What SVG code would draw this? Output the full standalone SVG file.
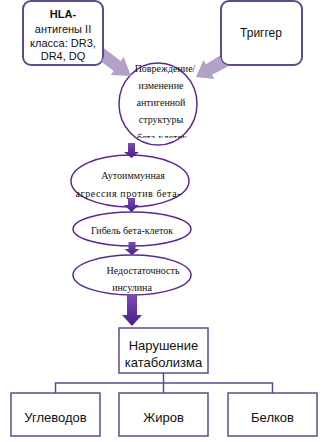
<svg xmlns="http://www.w3.org/2000/svg" width="332" height="442" viewBox="0 0 332 442">
<defs>
<linearGradient id="dg" x1="0" y1="0" x2="0" y2="1">
<stop offset="0" stop-color="#7a4bb5"/>
<stop offset="1" stop-color="#4a1c86"/>
</linearGradient>
<clipPath id="cc"><rect x="100" y="55" width="120" height="83"/></clipPath>
</defs>
<style>
.rb{fill:#fff;stroke:#5f4b8b;stroke-width:2}
.sb{fill:#fff;stroke:#5f4b8b;stroke-width:1.5}
.el{fill:#fff;stroke:#5a2a8e;stroke-width:1.5}
.sans{font-family:"Liberation Sans",Arial,sans-serif;font-size:12px;fill:#111;text-anchor:middle}
.sm{font-size:11px}
.big{font-size:13px}
.ser{font-family:"Liberation Serif","Times New Roman",serif;font-size:10px;fill:#111;text-anchor:middle}
.la{fill:#b3a2c7}
.da{fill:url(#dg)}
.ln{fill:none;stroke:#5f4b8b;stroke-width:1.5}
</style>
<rect width="332" height="442" fill="#fff"/>
<g id="hla">
<rect class="rb" x="23" y="1" width="80" height="64" rx="8"/>
<text class="sans sm" x="63" y="17.5" font-weight="bold">HLA-</text>
<text class="sans sm" x="63" y="33">антигены II</text>
<text class="sans sm" x="63" y="46.5">класса: DR3,</text>
<text class="sans sm" x="63" y="60">DR4, DQ</text>
</g>
<g id="trigger">
<rect class="rb" x="221" y="1" width="81" height="64" rx="8"/>
<text class="sans" x="261" y="37">Триггер</text>
</g>
<g id="damage">
<ellipse class="el" cx="158" cy="104" rx="39" ry="41"/>
<g clip-path="url(#cc)">
<text class="ser" x="165" y="72">Повреждение/</text>
<text class="ser" x="161" y="89">изменение</text>
<text class="ser" x="161" y="106">антигенной</text>
<text class="ser" x="161" y="123">структуры</text>
<text class="ser" x="162" y="141">бета-клеток</text>
</g>
</g>
<g id="autoimmune">
<ellipse class="el" cx="130" cy="181" rx="59" ry="26"/>
<text class="ser" x="133" y="179">Аутоиммунная</text>
<text class="ser" x="128" y="197" textLength="105" lengthAdjust="spacing">агрессия  против  бета-</text>
</g>
<g id="death">
<ellipse class="el" cx="132" cy="229" rx="59" ry="17"/>
<text class="ser" x="132" y="234">Гибель бета-клеток</text>
</g>
<g id="insufficiency">
<ellipse class="el" cx="132" cy="275" rx="59" ry="20"/>
<text class="ser" x="143" y="274">Недостаточность</text>
<text class="ser" x="132" y="291">инсулина</text>
</g>
<g id="catabolism">
<rect class="sb" x="119" y="328" width="89" height="45"/>
<text class="sans big" x="163.5" y="350">Нарушение</text>
<text class="sans big" x="163.5" y="367">катаболизма</text>
</g>
<g id="carbs">
<rect class="sb" x="11" y="393" width="89" height="43"/>
<text class="sans big" x="55.5" y="422">Углеводов</text>
</g>
<g id="fats">
<rect class="sb" x="119" y="393" width="89" height="43"/>
<text class="sans big" x="163.5" y="422">Жиров</text>
</g>
<g id="proteins">
<rect class="sb" x="228" y="393" width="89" height="43"/>
<text class="sans big" x="272.5" y="422">Белков</text>
</g>
<g id="connectors">
<polygon class="la" points="104,48.2 120.7,61.1 123.7,57.1 131,76 110.7,74.9 113.7,70.9 103,63.1 101.2,62.2 104,57"/>
<polygon class="la" points="220,55.6 206,64.3 203.5,60 196,77 214.5,79 212,74.7 228.8,66 222.8,63.2 220,57"/>
<polygon class="da" points="128,143 135,143 135,152 139,152 131.5,158 124,152 128,152"/>
<polygon class="da" points="128,198 135,198 135,205 139,205 131.5,212 124,205 128,205"/>
<polygon class="da" points="128.5,242 135.5,242 135.5,249 139.5,249 132,255 124.5,249 128.5,249"/>
<polygon class="da" points="127,295 137,295 137,315 142,315 132,326 122,315 127,315"/>
<path class="ln" d="M163.5,373V383M55.5,393V383H272.5V393M163.5,383V393"/>
</g>
</svg>
